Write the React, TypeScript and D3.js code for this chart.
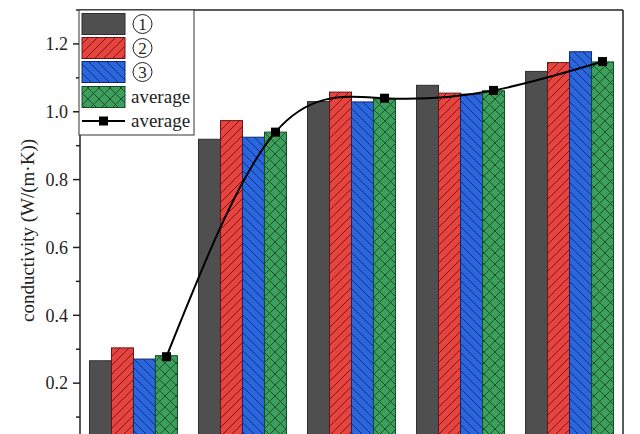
import React from "react";
import * as d3 from "d3";

const groups = ["G1", "G2", "G3", "G4", "G5"];
const seriesKeys = ["s1", "s2", "s3", "avg"];
const s1 = [0.266, 0.919, 1.03, 1.078, 1.119];
const s2 = [0.304, 0.974, 1.058, 1.055, 1.145];
const s3 = [0.271, 0.925, 1.029, 1.052, 1.177];
const avg = [0.281, 0.94, 1.038, 1.062, 1.147];
const avgLine = [0.278, 0.94, 1.04, 1.063, 1.148];
const majorTicks = [0.2, 0.4, 0.6, 0.8, 1.0, 1.2];
const minorTicks = [0.1, 0.3, 0.5, 0.7, 0.9, 1.1];
const legendLabels = ["1", "2", "3", "average", "average"];

const W = 640;
const H = 434;
const FONT = "'Liberation Serif', 'Times New Roman', serif";

const fills = ["#4f4f4f", "url(#pRed)", "url(#pBlue)", "url(#pGreen)"];
const strokes = ["#2e2e2e", "#6a1515", "#10296a", "#174a26"];

export default function App() {
  const left = 80, right = 623, top = 10;
  const y = d3.scaleLinear().domain([0, 1.3]).range([451, top]);
  const x = d3.scaleBand().domain(groups).range([left, right]).paddingInner(0.193).paddingOuter(0.087);
  const xi = d3.scaleBand().domain(seriesKeys).range([0, x.bandwidth()]).padding(0);
  const data = [s1, s2, s3, avg];

  const linePts: [number, number][] = groups.map((g, i) => [
    (x(g) as number) + (xi("avg") as number) + xi.bandwidth() / 2,
    y(avgLine[i]),
  ]);
  const line = d3.line().curve(d3.curveNatural)(linePts) || "";

  const lgX = 79, lgY = 10, lgW = 115, lgH = 125;
  const rowY = [24, 48, 72, 97, 121];

  return (
    <svg width={W} height={H} style={{ position: "absolute", left: 0, top: 0, background: "#fff" }} fontFamily={FONT}>
      <defs>
        <pattern id="pRed" patternUnits="userSpaceOnUse" width={9} height={9}>
          <rect width={9} height={9} fill="#e8443f" />
          <path d="M0,9 L9,0 M-1,1 L1,-1 M8,10 L10,8" stroke="#6a1515" strokeWidth={0.9} />
        </pattern>
        <pattern id="pBlue" patternUnits="userSpaceOnUse" width={9} height={9}>
          <rect width={9} height={9} fill="#2a66de" />
          <path d="M0,0 L9,9 M-1,8 L1,10 M8,-1 L10,1" stroke="#10296a" strokeWidth={0.9} />
        </pattern>
        <pattern id="pGreen" patternUnits="userSpaceOnUse" width={11} height={11}>
          <rect width={11} height={11} fill="#3d9f5c" />
          <path d="M0,0 L11,11 M-1,10 L1,12 M10,-1 L12,1 M0,11 L11,0 M-1,1 L1,-1 M10,12 L12,10" stroke="#174a26" strokeWidth={0.9} />
        </pattern>
      </defs>

      {groups.map((g, gi) => (
        <g key={g}>
          {seriesKeys.map((k, si) => {
            const bx = (x(g) as number) + (xi(k) as number);
            const by = y(data[si][gi]);
            return (
              <rect key={k} x={bx} y={by} width={xi.bandwidth()} height={y(0) - by}
                fill={fills[si]} stroke={strokes[si]} strokeWidth={1} />
            );
          })}
        </g>
      ))}

      <path d={line} fill="none" stroke="#000" strokeWidth={2} />
      {linePts.map((p, i) => (
        <rect key={i} x={p[0] - 4.5} y={p[1] - 4.5} width={9} height={9} fill="#000" />
      ))}

      {/* frame */}
      <line x1={left - 4} x2={right} y1={top} y2={top} stroke="#222" strokeWidth={1.5} />
      <line x1={right} x2={right} y1={top} y2={H} stroke="#222" strokeWidth={1.5} />
      <line x1={left} x2={left} y1={top} y2={H} stroke="#222" strokeWidth={1.5} />

      {/* y ticks */}
      {majorTicks.map((t) => (
        <g key={t}>
          <line x1={left - 7} x2={left} y1={y(t)} y2={y(t)} stroke="#222" strokeWidth={1.5} />
          <text x={left - 12} y={y(t)} dy="0.35em" textAnchor="end" fontSize={18} fill="#222">
            {d3.format(".1f")(t)}
          </text>
        </g>
      ))}
      {minorTicks.map((t) => (
        <line key={t} x1={left - 4} x2={left} y1={y(t)} y2={y(t)} stroke="#222" strokeWidth={1.5} />
      ))}

      <text transform={`translate(34,${(y(0) + top) / 2}) rotate(-90)`} textAnchor="middle" fontSize={19} fill="#222">
        conductivity (W/(m·K))
      </text>

      {/* legend */}
      <rect x={lgX} y={lgY} width={lgW} height={lgH} fill="#fff" stroke="#333" strokeWidth={1} />
      {[0, 1, 2, 3].map((i) => (
        <g key={i}>
          <rect x={82} y={rowY[i] - 10.5} width={43} height={21} fill={fills[i]} stroke={strokes[i]} strokeWidth={1} />
          {i < 3 ? (
            <g>
              <circle cx={142.5} cy={rowY[i]} r={9.5} fill="none" stroke="#222" strokeWidth={1} />
              <text x={142.5} y={rowY[i]} dy="0.35em" textAnchor="middle" fontSize={17} fill="#222">{legendLabels[i]}</text>
            </g>
          ) : (
            <text x={131} y={rowY[i]} dy="0.3em" fontSize={19} fill="#222">{legendLabels[i]}</text>
          )}
        </g>
      ))}
      <line x1={82} x2={125} y1={rowY[4]} y2={rowY[4]} stroke="#000" strokeWidth={2} />
      <rect x={99} y={rowY[4] - 4.5} width={9} height={9} fill="#000" />
      <text x={131} y={rowY[4]} dy="0.3em" fontSize={19} fill="#222">{legendLabels[4]}</text>
    </svg>
  );
}
